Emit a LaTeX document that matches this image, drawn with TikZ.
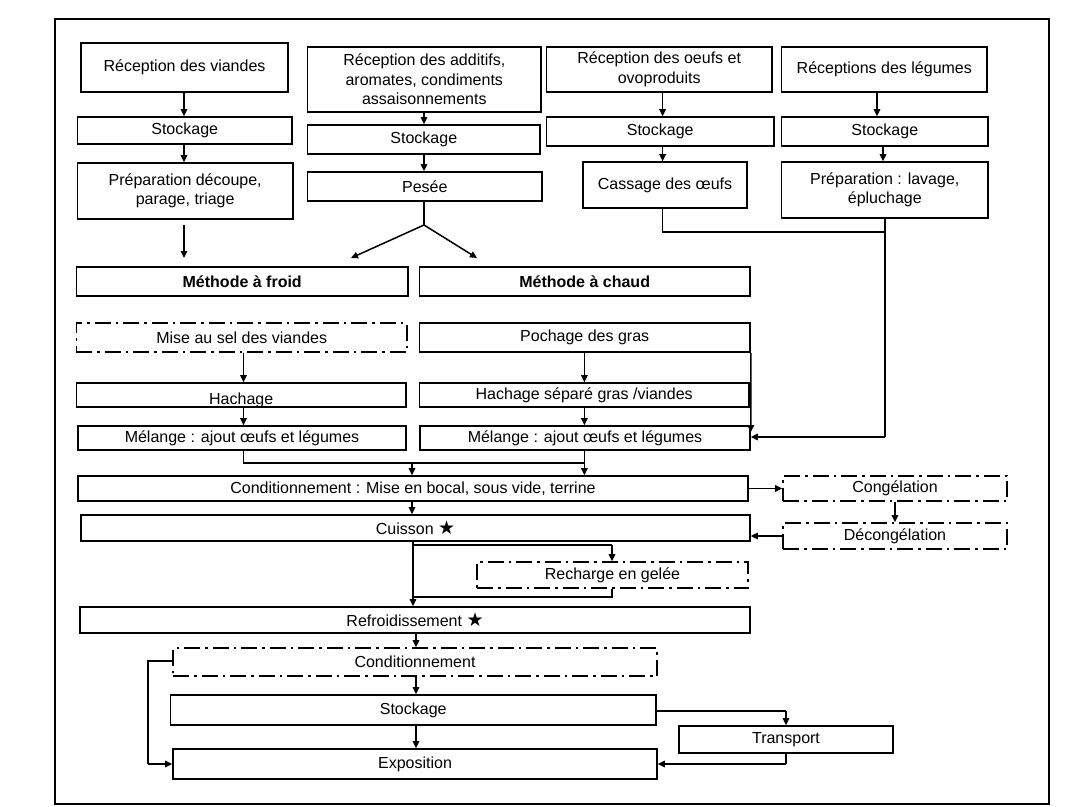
\documentclass[tikz,border=0pt]{standalone}
\usepackage{fontspec}
\setmainfont{Liberation Sans}
\newfontfamily\symfont{DejaVu Sans}
\usetikzlibrary{arrows.meta,calc}
\newcommand{\bigstarsym}{{\symfont\bfseries\fontsize{19}{19}\selectfont ★}}
\begin{document}
\begin{tikzpicture}[x=1pt,y=-1pt,
  box/.style={draw, line width=1.6pt, inner sep=1pt, align=center, font=\fontsize{16}{19.5}\selectfont},
  ddbox/.style={box, dash pattern=on 16pt off 5pt on 2.5pt off 5pt},
  arr/.style={line width=1.5pt, -{Triangle[length=7pt,width=6.5pt]}},
  ln/.style={line width=1.5pt}]
\useasboundingbox (0,0) rectangle (1068,806);
\draw[line width=1.6pt] (55,19) rectangle (1049,804);

% top row
\node[box, minimum width=207pt, minimum height=49pt] (rv) at (184.5,67.5) {Réception des viandes};
\node[box, minimum width=214.5pt, minimum height=27pt] (s1) at (184.7,130.5) {Stockage};
\node[box, minimum width=215.5pt, minimum height=56pt] (pd) at (185.2,191) {Préparation découpe,\\ parage, triage};
\node[box, minimum width=233.4pt, minimum height=65pt] (ra) at (424.3,79.5) {Réception des additifs,\\aromates, condiments\\assaisonnements};
\node[box, minimum width=232.4pt, minimum height=29pt] (s2) at (423.8,139.5) {Stockage};
\node[box, minimum width=234.4pt, minimum height=29pt] (pe) at (424.8,186.5) {Pesée};
\node[box, minimum width=225.5pt, minimum height=45pt] (ro) at (659.2,69.5) {Réception des oeufs et\\ovoproduits};
\node[box, minimum width=205.3pt, minimum height=45pt] (rl) at (884.3,69.5) {Réceptions des légumes};
\node[box, minimum width=227.5pt, minimum height=29pt] (s3) at (660.2,131.5) {Stockage};
\node[box, minimum width=206.3pt, minimum height=29pt] (s4) at (884.8,131.5) {Stockage};
\node[box, minimum width=164pt, minimum height=46pt] (ca) at (665,185) {Cassage des œufs};
\node[box, minimum width=206.3pt, minimum height=56pt] (pl) at (884.8,190) {Préparation : lavage,\\épluchage};

% methods
\node[box, minimum width=331.5pt, minimum height=29pt, font=\fontsize{16}{19.5}\selectfont\bfseries] (mf) at (242.2,281.5) {Méthode à froid};
\node[box, minimum width=330.5pt, minimum height=29pt, font=\fontsize{16}{19.5}\selectfont\bfseries] (mc) at (584.7,281.5) {Méthode à chaud};
\node[ddbox, minimum width=330.5pt, minimum height=29pt] (ms) at (241.7,337.5) {Mise au sel des viandes};
\node[box, minimum width=330.5pt, minimum height=29pt] (po) at (584.7,337.5) {Pochage des gras};
\node[box, minimum width=329.5pt, minimum height=24pt] (ha) at (241.2,395) {\smash{\raisebox{-9pt}{Hachage}}};
\node[box, minimum width=329.5pt, minimum height=24pt] (hs) at (584.2,395) {Hachage séparé gras /viandes};
\node[box, minimum width=328pt, minimum height=24pt] (ml) at (242,438) {Mélange : ajout œufs et légumes};
\node[box, minimum width=330pt, minimum height=24pt] (mr) at (585,438) {Mélange : ajout œufs et légumes};

% middle
\node[box, minimum width=670pt, minimum height=25pt] (co) at (413,488.5) {Conditionnement : Mise en bocal, sous vide, terrine};
\node[box, minimum width=669pt, minimum height=26pt] (cu) at (415.5,528) {Cuisson \bigstarsym};
\node[ddbox, minimum width=224pt, minimum height=25pt] (cg) at (895,488.5) {Congélation};
\node[ddbox, minimum width=224pt, minimum height=26pt] (dc) at (895,536) {Décongélation};
\node[ddbox, minimum width=271pt, minimum height=26pt] (rg) at (612.5,575) {Recharge en gelée};
\node[box, minimum width=670pt, minimum height=26pt] (rf) at (415,620) {Refroidissement \bigstarsym};

% bottom
\node[ddbox, minimum width=484pt, minimum height=28pt] (c2) at (415,662) {Conditionnement};
\node[box, minimum width=485.5pt, minimum height=30pt] (st) at (413.2,710) {Stockage};
\node[box, minimum width=484pt, minimum height=30pt] (ex) at (415,764) {Exposition};
\node[box, minimum width=214pt, minimum height=27pt] (tr) at (786,739.5) {Transport};

% coordinates
\coordinate (pdA) at (184,225);
\coordinate (pdB) at (184,258);
\coordinate (split) at (424,225);
\coordinate (mfT) at (351,258);
\coordinate (mcT) at (477,258);
\coordinate (caJ) at (662.6,232);
\coordinate (plJ) at (885,232);
\coordinate (plB) at (885,437);
\coordinate (mlJ) at (243.5,463);
\coordinate (mrJ) at (584.4,463);
\coordinate (coJ) at (412,463);
\coordinate (cuA) at (413,545);
\coordinate (rgA) at (612,545);
\coordinate (rgB) at (612,597);
\coordinate (cuB) at (413,597);
\coordinate (lpA) at (148,661);
\coordinate (lpB) at (148,764);
\coordinate (trA) at (786,711);
\coordinate (trB) at (786,764);

% connectors: top
\draw[arr] (rv.south -| 184,0) -- (s1.north -| 184,0);
\draw[arr] (s1.south -| 184,0) -- (pd.north -| 184,0);
\draw[arr] (pdA) -- (pdB);
\draw[arr] (ra.south -| 424,0) -- (s2.north -| 424,0);
\draw[arr] (s2.south -| 424,0) -- (pe.north -| 424,0);
\draw[ln] (pe.south -| split) -- (split);
\draw[arr] (split) -- (mfT);
\draw[arr] (split) -- (mcT);
\draw[arr] (ro.south -| 662.6,0) -- (s3.north -| 662.6,0);
\draw[arr] (s3.south -| 662.6,0) -- (ca.north -| 662.6,0);
\draw[arr] (rl.south -| 877,0) -- (s4.north -| 877,0);
\draw[arr] (s4.south -| 883,0) -- (pl.north -| 883,0);
\draw[ln] (ca.south -| caJ) -- (caJ) -- (plJ);
\draw[ln] (pl.south -| plJ) -- (plB);
\draw[arr] (plB) -- (plB -| mr.east);

% methods
\draw[arr] (ms.south -| 243.5,0) -- (ha.north -| 243.5,0);
\draw[arr] (ha.south -| 243.5,0) -- (ml.north -| 243.5,0);
\draw[arr] (po.south -| 584.4,0) -- (hs.north -| 584.4,0);
\draw[arr] (hs.south -| 584.4,0) -- (mr.north -| 584.4,0);
\draw[arr] (po.south east) -- ($(mr.north east)+(0,7)$);
\draw[ln] (ml.south -| mlJ) -- (mlJ) -- (mrJ);
\draw[arr] (mr.south -| mrJ) -- (co.north -| mrJ);
\draw[arr] (coJ) -- (co.north -| coJ);

% middle
\draw[arr] (co.south -| 412,0) -- (cu.north -| 412,0);
\draw[arr] (co.east) -- (cg.west);
\draw[arr] (cg.south) -- (dc.north);
\draw[arr] (dc.west) -- (dc.west -| cu.east);
\draw[arr] (cu.south -| cuA) -- (rf.north -| cuA);
\draw[ln] (cuA) -- (rgA);
\draw[arr] (rgA) -- (rg.north -| rgA);
\draw[ln] (rg.south -| rgB) -- (rgB) -- (cuB);

% bottom
\draw[arr] (rf.south -| 416,0) -- (c2.north -| 416,0);
\draw[arr] (c2.south -| 416,0) -- (st.north -| 416,0);
\draw[arr] (st.south -| 416,0) -- (ex.north -| 416,0);
\draw[ln] (c2.west |- lpA) -- (lpA) -- (lpB);
\draw[arr] (lpB) -- (ex.west);
\draw[ln] (st.east |- trA) -- (trA);
\draw[arr] (trA) -- (tr.north);
\draw[ln] (tr.south) -- (trB);
\draw[arr] (trB) -- (ex.east);
\end{tikzpicture}
\end{document}
